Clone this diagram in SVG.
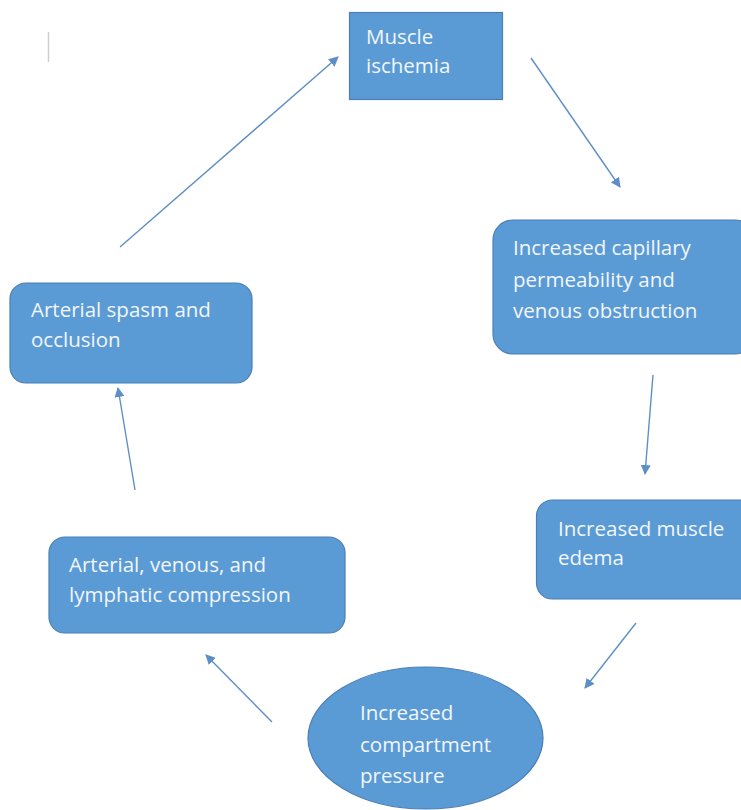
<svg xmlns="http://www.w3.org/2000/svg" width="741" height="810" viewBox="0 0 741 810">
<defs>
<style>
.box{fill:#5b9bd5;stroke:#4a7fb3;stroke-width:1.2}
.t{font-family:"Open Sans","Noto Sans","Liberation Sans",sans-serif;font-size:20.5px;fill:#f2f6fb}
.c{stroke:#5d8fc6;stroke-width:1.4;fill:none;marker-end:url(#ah)}
</style>
<marker id="ah" viewBox="0 0 10 10" refX="9" refY="5" markerWidth="10" markerHeight="10" markerUnits="userSpaceOnUse" orient="auto">
<path d="M0,0 L10,5 L0,10 z" fill="#5d8fc6"/>
</marker>
</defs>
<rect width="741" height="810" fill="#ffffff"/>
<line x1="48.5" y1="32" x2="48.5" y2="62" stroke="#cfcfcf" stroke-width="1.5"/>
<g id="connectors">
<line class="c" x1="120" y1="247" x2="338" y2="57"/>
<line class="c" x1="531" y1="58" x2="620" y2="187"/>
<line class="c" x1="653" y1="375" x2="645" y2="474"/>
<line class="c" x1="636" y1="623" x2="585" y2="688"/>
<line class="c" x1="272" y1="722" x2="206" y2="655"/>
<line class="c" x1="135" y1="490" x2="118" y2="388"/>
</g>
<g id="muscle-ischemia">
<rect class="box" x="349.5" y="12.5" width="153" height="87"/>
<text class="t" x="366" y="44">Muscle</text>
<text class="t" x="366" y="73">ischemia</text>
</g>
<g id="capillary-permeability">
<rect class="box" x="493" y="220" width="262" height="134" rx="20"/>
<text class="t" x="513" y="255">Increased capillary</text>
<text class="t" x="513" y="287">permeability and</text>
<text class="t" x="513" y="318">venous obstruction</text>
</g>
<g id="muscle-edema">
<rect class="box" x="536.5" y="500" width="220" height="99" rx="16"/>
<text class="t" x="558" y="536">Increased muscle</text>
<text class="t" x="558" y="565">edema</text>
</g>
<g id="compartment-pressure">
<ellipse class="box" cx="425.5" cy="738" rx="117.5" ry="71"/>
<text class="t" x="360" y="720">Increased</text>
<text class="t" x="360" y="752">compartment</text>
<text class="t" x="360" y="783">pressure</text>
</g>
<g id="compression">
<rect class="box" x="49" y="537" width="296" height="96" rx="16"/>
<text class="t" x="69" y="572">Arterial, venous, and</text>
<text class="t" x="69" y="602">lymphatic compression</text>
</g>
<g id="arterial-spasm">
<rect class="box" x="10" y="283" width="242" height="100" rx="16"/>
<text class="t" x="31" y="317">Arterial spasm and</text>
<text class="t" x="31" y="347">occlusion</text>
</g>
</svg>
